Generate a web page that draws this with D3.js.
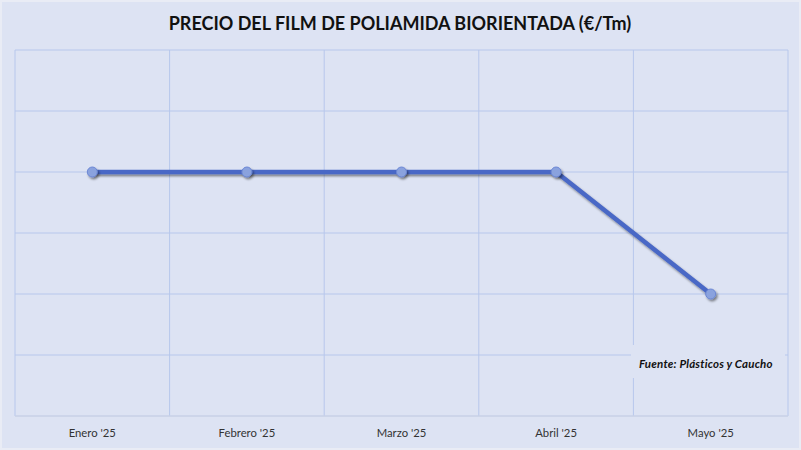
<!DOCTYPE html>
<html><head><meta charset="utf-8">
<script src="https://cdn.jsdelivr.net/npm/d3@7"></script>
<style>
html,body{margin:0;padding:0;background:#dde3f3;}
svg{display:block;}
</style></head>
<body>
<svg id="chart" width="801" height="450"></svg>
<script>
const categories = ["Enero '25", "Febrero '25", "Marzo '25", "Abril '25", "Mayo '25"];
const values = [4000, 4000, 4000, 4000, 3800];
const yTicks = [3600, 3700, 3800, 3900, 4000, 4100, 4200];
const titleText = "PRECIO DEL FILM DE POLIAMIDA BIORIENTADA (€/Tm)";
const sourceText = "Fuente: Plásticos y Caucho";

const W = 801, H = 450;
const m = {left: 15, right: 13, top: 50, bottom: 34};
const svg = d3.select("#chart");

const defs = svg.append("defs");
const f = defs.append("filter").attr("id","sh").attr("x","-50%").attr("y","-50%").attr("width","200%").attr("height","200%");
f.append("feDropShadow").attr("dx",1.5).attr("dy",2).attr("stdDeviation",1.3).attr("flood-color","#000").attr("flood-opacity",0.45);

svg.append("rect").attr("x",0.5).attr("y",0.5).attr("width",W-1).attr("height",H-1)
  .attr("fill","#dde3f3").attr("stroke","#e9ecf5").attr("stroke-width",3);

const x = d3.scaleBand().domain(categories).range([m.left, W - m.right]);
const y = d3.scaleLinear().domain([3600, 4200]).range([H - m.bottom, m.top]);

const grid = svg.append("g");
grid.selectAll("line.h").data(yTicks).join("line")
  .attr("x1", m.left).attr("x2", W - m.right)
  .attr("y1", d => y(d)).attr("y2", d => y(d))
  .attr("stroke","#b7c7ec").attr("stroke-width",1);
const vx = categories.map(c => x(c)).concat([x(categories[categories.length-1]) + x.bandwidth()]);
grid.selectAll("line.v").data(vx).join("line")
  .attr("x1", d => d).attr("x2", d => d)
  .attr("y1", m.top).attr("y2", H - m.bottom)
  .attr("stroke","#b7c7ec").attr("stroke-width",1);
svg.append("line").attr("x1", m.left).attr("x2", W - m.right)
  .attr("y1", H - m.bottom).attr("y2", H - m.bottom)
  .attr("stroke","#cfd5e4").attr("stroke-width",1.2);

const xAxis = svg.append("g").attr("transform", `translate(0,${H - m.bottom})`)
  .call(d3.axisBottom(x).tickSize(0).tickPadding(13));
xAxis.select(".domain").remove();
xAxis.selectAll("text").attr("font-family","Lato, 'Open Sans', sans-serif").attr("font-size",11.3).attr("fill","#333");

const cx = d => x(d) + x.bandwidth()/2;
const line = d3.line().x((d,i) => cx(categories[i])).y(d => y(d));
svg.append("path").datum(values).attr("d", line)
  .attr("fill","none").attr("stroke","#4a68c6").attr("stroke-width",4.5)
  .attr("stroke-linejoin","round").attr("filter","url(#sh)");
svg.selectAll("circle.pt").data(values).join("circle")
  .attr("cx",(d,i) => cx(categories[i])).attr("cy", d => y(d)).attr("r",5)
  .attr("fill","#8aa2de").attr("stroke","#6c87d4").attr("stroke-width",1).attr("filter","url(#sh)");

svg.append("rect").attr("x",631).attr("y",345).attr("width",154).attr("height",33).attr("fill","#dde3f3");
svg.append("text").attr("x",639).attr("y",368).text(sourceText)
  .attr("font-family","Lato, 'Open Sans', sans-serif").attr("font-size",11.5).attr("font-weight","bold")
  .attr("font-style","italic").attr("fill","#111").attr("letter-spacing",0.2);

svg.append("text").attr("x", 400).attr("y", 30).attr("text-anchor","middle").text(titleText)
  .attr("font-family","Lato, 'Open Sans', sans-serif").attr("font-size",18).attr("font-weight","bold").attr("fill","#111");
</script>
</body></html>
